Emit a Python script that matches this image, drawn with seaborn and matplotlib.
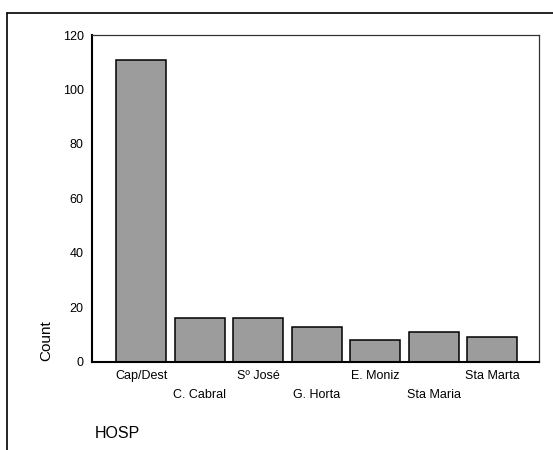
import matplotlib
matplotlib.use("Agg")
import matplotlib.pyplot as plt
from matplotlib.lines import Line2D
import seaborn as sns
import pandas as pd

categories = ["Cap/Dest", "C. Cabral", "Sº José", "G. Horta", "E. Moniz", "Sta Maria", "Sta Marta"]
counts = [111, 16, 16, 13, 8, 11, 9]
y_ticks = [0, 20, 40, 60, 80, 100, 120]

sns.set_style("white")
plt.rcParams['font.family'] = ['Liberation Sans', 'DejaVu Sans']
plt.rcParams['text.color'] = 'black'
plt.rcParams['axes.labelcolor'] = 'black'
plt.rcParams['xtick.color'] = 'black'
plt.rcParams['ytick.color'] = 'black'

df = pd.DataFrame({"HOSP": categories, "Count": counts})

fig = plt.figure(figsize=(5.53, 4.5), dpi=100)
ax = fig.add_axes([0.1664, 0.1956, 0.8083, 0.7266])

sns.barplot(data=df, x="HOSP", y="Count", color="#9c9c9c", edgecolor="black",
            linewidth=1.1, width=0.85, saturation=1, ax=ax)

ax.set_ylim(0, 120)
ax.set_xlim(-0.84, 6.8)
ax.set_yticks(y_ticks)
ax.set_yticklabels([str(v) for v in y_ticks], fontsize=9)
ax.set_xticks(range(len(categories)))
ax.set_xticklabels(categories, fontsize=9)
ax.tick_params(axis="y", direction="out", length=3, width=1.3, color="black", labelcolor="black", pad=3)
ax.tick_params(axis="x", direction="out", length=2.5, width=1.3, color="black", labelcolor="black", pad=3)
for i, t in enumerate(ax.xaxis.get_major_ticks()):
    if i % 2 == 1:
        t.set_pad(17)

ax.set_xlabel("")
ax.set_ylabel("Count", fontsize=11, color="black")
ax.yaxis.set_label_coords(-0.087, 0.064)

for s in ["left", "bottom"]:
    ax.spines[s].set_color("black")
    ax.spines[s].set_linewidth(1.5)
for s in ["top", "right"]:
    ax.spines[s].set_color("#333333")
    ax.spines[s].set_linewidth(0.9)

fig.text(95 / 553, 1 - 434 / 450, "HOSP", fontsize=11.5, ha="left", va="center", color="black")

fig.add_artist(Line2D([7 / 553, 7 / 553], [0, 1 - 13 / 450], transform=fig.transFigure,
                      color="black", linewidth=1.2))
fig.add_artist(Line2D([7 / 553, 1], [1 - 13 / 450, 1 - 13 / 450], transform=fig.transFigure,
                      color="black", linewidth=1.2))

fig.savefig("out.png", dpi=100, facecolor="white")
